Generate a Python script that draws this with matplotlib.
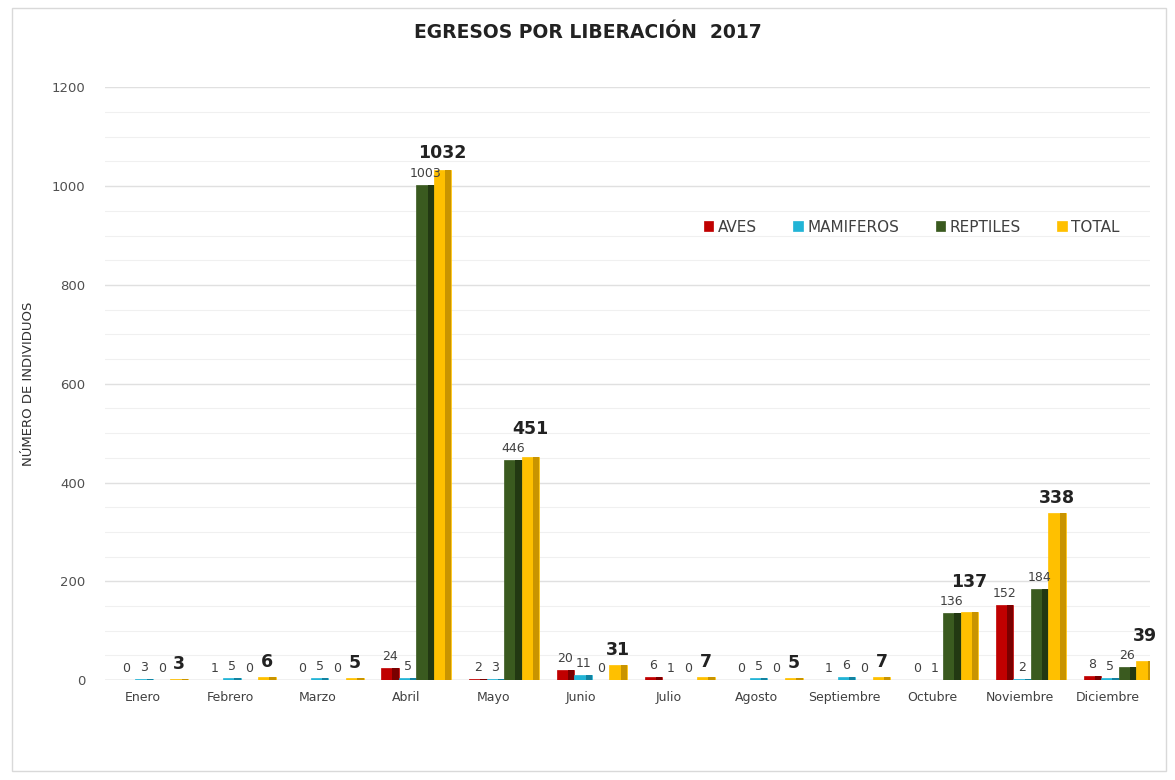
import matplotlib
matplotlib.use("Agg")
import matplotlib.pyplot as plt
import numpy as np
from matplotlib.patches import Rectangle

months = ["Enero", "Febrero", "Marzo", "Abril", "Mayo", "Junio", "Julio",
          "Agosto", "Septiembre", "Octubre", "Noviembre", "Diciembre"]
aves = [0, 1, 0, 24, 2, 20, 6, 0, 1, 0, 152, 8]
mamiferos = [3, 5, 5, 5, 3, 11, 1, 5, 6, 1, 2, 5]
reptiles = [0, 0, 0, 1003, 446, 0, 0, 0, 0, 136, 184, 26]
total = [3, 6, 5, 1032, 451, 31, 7, 5, 7, 137, 338, 39]

series = [
    ("AVES", aves, "#C00000", "#7A0000"),
    ("MAMIFEROS", mamiferos, "#22B4D6", "#1382A0"),
    ("REPTILES", reptiles, "#3A5A1F", "#223812"),
    ("TOTAL", total, "#FFC000", "#C99400"),
]

fig = plt.figure(figsize=(11.75, 7.8), dpi=100)
fig.patch.set_facecolor("white")
fig.add_artist(Rectangle((0.01, 0.012), 0.982, 0.978, transform=fig.transFigure,
                         fill=False, edgecolor="#D9D9D9", linewidth=1))
ax = fig.add_axes([0.089, 0.128, 0.89, 0.76])

x = np.arange(len(months))
w = 0.2
offsets = [-1.5 * w, -0.5 * w, 0.5 * w, 1.5 * w]
shift = 0.12

for (name, vals, col, dark), off in zip(series, offsets):
    pos = x + off + shift
    ax.bar(pos, vals, width=w, color=col, label=name, zorder=3,
           edgecolor=col, linewidth=0.5)
    # darker side face for a little depth
    ax.bar(pos + w * 0.32, vals, width=w * 0.36, color=dark, zorder=3.5,
           linewidth=0)
    for i, (p, v) in enumerate(zip(pos, vals)):
        if name == "TOTAL":
            # keep the total clear of the reptiles label beside it
            y = v + 12
            if reptiles[i] > 0:
                y = max(y, reptiles[i] + 45)
            ax.text(p, y, str(v), ha="center", va="bottom",
                    fontsize=12.5, fontweight="bold", color="#222222", zorder=5)
        else:
            ax.text(p, v + 10, str(v), ha="center", va="bottom",
                    fontsize=9, color="#404040", zorder=5)

ax.set_xlim(-0.43, 11.48)
ax.set_ylim(0, 1200)
ax.set_yticks(np.arange(0, 1201, 200))
ax.set_yticks(np.arange(0, 1201, 50), minor=True)
ax.grid(axis="y", which="major", color="#E0E0E0", linewidth=1, zorder=0)
ax.grid(axis="y", which="minor", color="#F0F0F0", linewidth=0.8, zorder=0)
ax.set_xticks(x)
ax.set_xticklabels(months, fontsize=9, color="#404040")
ax.tick_params(axis="both", which="both", length=0, pad=8)
ax.tick_params(axis="y", labelsize=9.5, labelcolor="#505050", pad=14)
for s in ax.spines.values():
    s.set_visible(False)
ax.axhline(0, color="#D0D0D0", linewidth=1, zorder=2)

ax.set_ylabel("NÚMERO DE INDIVIDUOS", fontsize=9.5, color="#303030", labelpad=12)
fig.text(0.5, 0.958, "EGRESOS POR LIBERACIÓN  2017", ha="center", va="center",
         fontsize=13.5, fontweight="bold", color="#222222")

leg = ax.legend(loc="upper left", bbox_to_anchor=(0.56, 0.80), ncol=4,
                frameon=False, fontsize=11, handlelength=0.6, handleheight=0.6,
                handletextpad=0.3, columnspacing=2.4)
for t in leg.get_texts():
    t.set_color("#404040")

fig.savefig("out.png", dpi=100, facecolor="white")
